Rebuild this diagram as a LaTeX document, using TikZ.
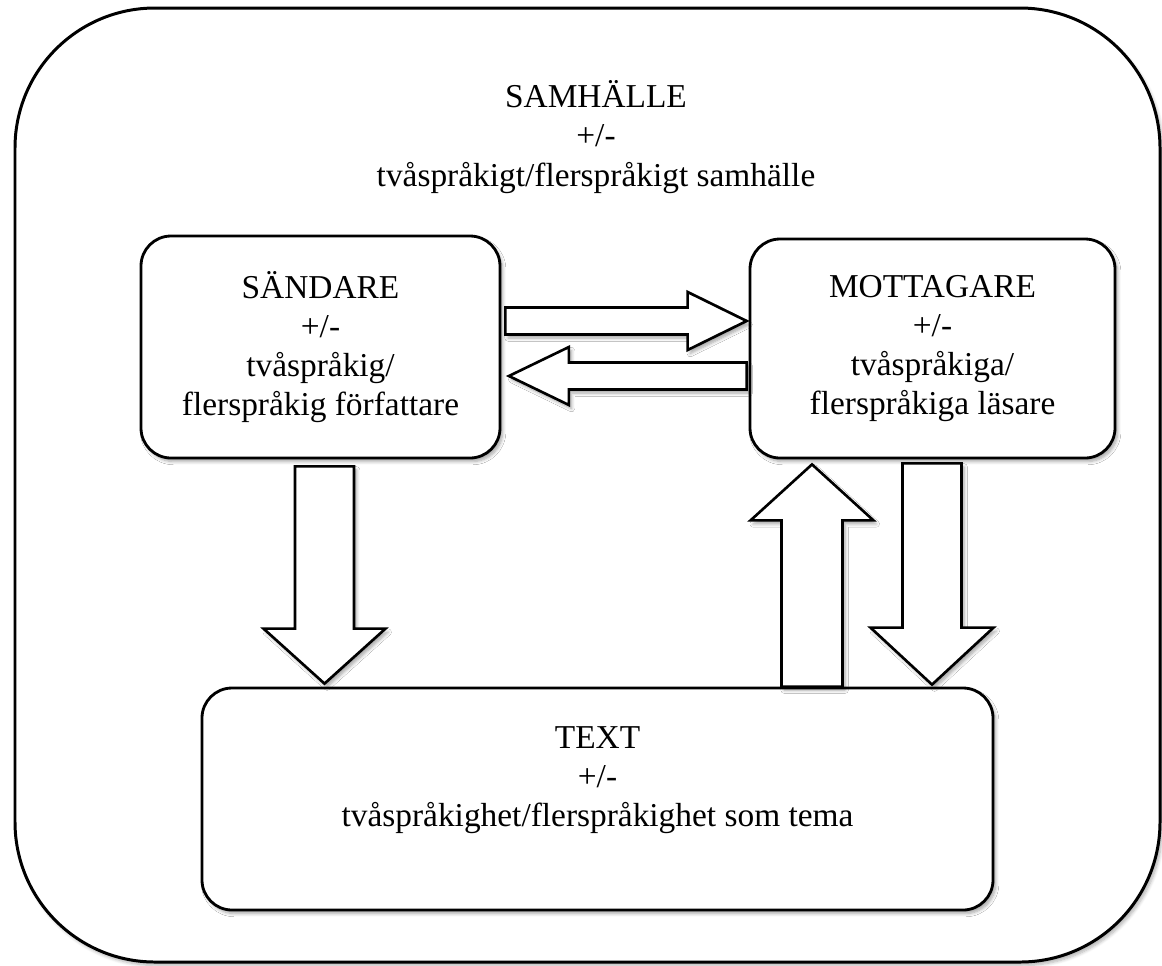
\documentclass[tikz,border=0pt]{standalone}
\usepackage{fontspec}
\setmainfont{Liberation Serif}
\usetikzlibrary{calc,shadows.blur}

% wide hollow arrow: from, to, half shaft, half head, head length
\newcommand{\fatarrow}[5]{%
  \coordinate (neck) at ($(#2)!#5!(#1)$);
  \draw[blockarrow] ($(#1)!#3!90:(#2)$) -- ($(neck)!#3!90:(#2)$)
    -- ($(neck)!#4!90:(#2)$) -- (#2) -- ($(neck)!#4!-90:(#2)$)
    -- ($(neck)!#3!-90:(#2)$) -- ($(#1)!#3!-90:(#2)$) -- cycle;
}

\begin{document}
\begin{tikzpicture}[
  box/.style={draw, line width=1.6pt, rounded corners=0.6cm, fill=white,
    blur shadow={shadow xshift=1.5pt, shadow yshift=-2pt, shadow blur steps=6, shadow opacity=35}},
  blockarrow/.style={draw, line width=1.5pt, fill=white,
    blur shadow={shadow xshift=1.5pt, shadow yshift=-2pt, shadow blur steps=6, shadow opacity=35}},
  lbl/.style={align=center, font=\fontsize{19}{22.3}\selectfont}]
  \useasboundingbox (0,0) rectangle (23.24,-19.30);
  \draw[line width=1.7pt, rounded corners=2.8cm,
    blur shadow={shadow xshift=1.5pt, shadow yshift=-2pt, shadow blur steps=6, shadow opacity=30}, fill=white]
    (0.30,-0.16) rectangle (23.20,-19.24);
  \node[lbl] (society) at (11.92,-2.74) {SAMHÄLLE\\+/-\\tvåspråkigt/flerspråkigt samhälle};

  \node[box, minimum width=7.18cm, minimum height=4.44cm] (sender) at (6.41,-6.94) {};
  \node[lbl] (senderlbl) at (sender.center) {SÄNDARE\\+/-\\tvåspråkig/\\flerspråkig författare};
  \node[box, minimum width=7.30cm, minimum height=4.38cm] (receiver) at (18.65,-6.97) {};
  \node[lbl] (receiverlbl) at (receiver.center) {MOTTAGARE\\+/-\\tvåspråkiga/\\flerspråkiga läsare};
  \node[box, minimum width=15.82cm, minimum height=4.44cm] (text) at (11.95,-15.98) {};
  \node[lbl] (textlbl) at ([yshift=0.38cm]text.center) {TEXT\\+/-\\tvåspråkighet/flerspråkighet som tema};

  % sender <-> receiver
  \coordinate (a1) at ($(sender.east)+(0.08,0.52)$);
  \coordinate (b1) at ([xshift=-0.04cm]receiver.west |- a1);
  \fatarrow{a1}{b1}{0.27cm}{0.58cm}{1.18cm}
  \coordinate (a2) at ($(receiver.west)+(-0.04,-0.55)$);
  \coordinate (b2) at ([xshift=0.15cm]sender.east |- a2);
  \fatarrow{a2}{b2}{0.27cm}{0.58cm}{1.20cm}

  % down to the text and back
  \coordinate (a3) at ($(sender.south)+(0.08,-0.14)$);
  \coordinate (b3) at ([yshift=0.06cm]text.north -| a3);
  \fatarrow{a3}{b3}{0.59cm}{1.22cm}{1.10cm}
  \coordinate (a4) at (16.24,0 |- text.north);
  \coordinate (b4) at ([yshift=-0.10cm]receiver.south -| a4);
  \fatarrow{a4}{b4}{0.61cm}{1.23cm}{1.12cm}
  \coordinate (a5) at ($(receiver.south)+(-0.01,-0.08)$);
  \coordinate (b5) at ([yshift=0.04cm]text.north -| a5);
  \fatarrow{a5}{b5}{0.59cm}{1.23cm}{1.14cm}
\end{tikzpicture}
\end{document}
